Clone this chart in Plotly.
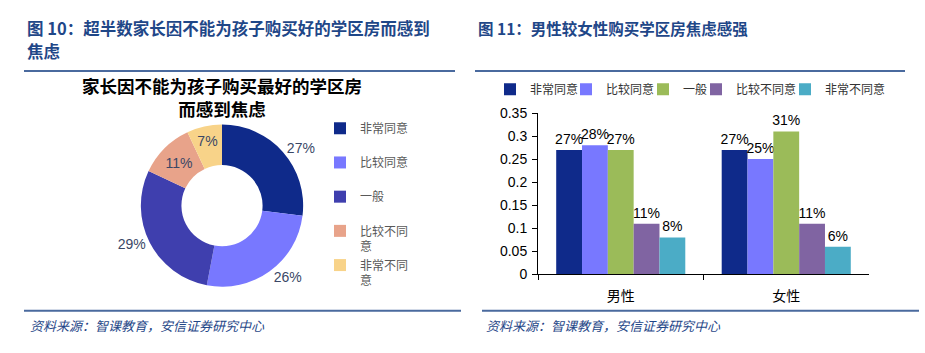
import plotly.graph_objects as go

# ---------------- data ----------------
left_header_lines = ["图 10：超半数家长因不能为孩子购买好的学区房而感到", "焦虑"]
right_header = "图 11：男性较女性购买学区房焦虑感强"
source_text = "资料来源：智课教育，安信证券研究中心"
pie_title = "家长因不能为孩子购买最好的学区房<br>而感到焦虑"
categories = ["非常同意", "比较同意", "一般", "比较不同意", "非常不同意"]
pie_values = [27, 26, 29, 11, 7]
genders = ["男性", "女性"]
male_values = [0.27, 0.28, 0.27, 0.11, 0.08]
female_values = [0.27, 0.25, 0.31, 0.11, 0.06]
y_ticks = [0, 0.05, 0.1, 0.15, 0.2, 0.25, 0.3, 0.35]
y_tick_labels = ["0", "0.05", "0.1", "0.15", "0.2", "0.25", "0.3", "0.35"]

# ---------------- style ----------------
W, H = 925, 353
def px(x):
    return x / W
def py(y):
    return 1 - y / H

pie_colors = ["#0F2A8A", "#7878FF", "#3F3FAE", "#E8A38A", "#F8D389"]
bar_colors = ["#0F2A8A", "#7878FF", "#9BBB59", "#8064A2", "#4BACC6"]
header_color = "#1F4788"
rule_color = "#4A6A9E"
base_font = "Liberation Sans, Arial, Noto Sans CJK SC, sans-serif"
cjk_font = "Noto Sans CJK SC, sans-serif"


def legend_wrap(label, width=4):
    lines = [label[i:i + width] for i in range(0, len(label), width)]
    if len(lines) < 2:
        lines.append("\u00a0")
    return "<br>".join(lines)


pie_legend_labels = [legend_wrap(c) for c in categories]

fig = go.Figure()

# ---------------- doughnut ----------------
fig.add_trace(go.Pie(
    labels=pie_legend_labels,
    values=pie_values,
    hole=0.5,
    sort=False,
    direction="clockwise",
    rotation=0,
    marker=dict(colors=pie_colors, line=dict(width=0)),
    textposition=["outside", "outside", "outside", "inside", "inside"],
    texttemplate="%{percent:.0%}",
    textfont=dict(size=14, color="#3A4766", family=base_font),
    insidetextorientation="horizontal",
    domain=dict(x=[px(137), px(307)], y=[py(292), py(122)]),
    legend="legend",
    hoverinfo="label+percent",
))

# ---------------- grouped bars ----------------
legend_text_x = [530, 606, 683, 736, 825]
for i, cat in enumerate(categories):
    fig.add_trace(go.Bar(
        x=genders,
        y=[male_values[i], female_values[i]],
        name=cat,
        marker=dict(color=bar_colors[i], line=dict(width=0)),
        texttemplate="%{y:.0%}",
        textposition="outside",
        textfont=dict(size=14, color="#000000", family=base_font),
        constraintext="none",
        cliponaxis=False,
        legend=f"legend{i + 2}",
        xaxis="x",
        yaxis="y",
    ))

legend_common = dict(
    orientation="v",
    xanchor="left",
    yanchor="middle",
    bgcolor="rgba(0,0,0,0)",
    borderwidth=0,
    font=dict(size=12, color="#333333", family=cjk_font),
    itemclick=False,
    itemdoubleclick=False,
)
extra_legends = {}
for i in range(len(categories)):
    extra_legends[f"legend{i + 2}"] = dict(legend_common, x=px(legend_text_x[i] - 40), y=py(85))

fig.update_layout(
    width=W,
    height=H,
    margin=dict(l=0, r=0, t=0, b=0),
    paper_bgcolor="white",
    plot_bgcolor="white",
    font=dict(family=base_font, color="#000000"),
    barmode="group",
    bargap=0.22,
    bargroupgap=0,
    showlegend=True,
    legend=dict(
        x=px(320), y=py(111), xanchor="left", yanchor="top",
        orientation="v", valign="top", traceorder="normal",
        bgcolor="rgba(0,0,0,0)", borderwidth=0,
        font=dict(size=12, color="#595959", family=cjk_font),
        itemclick=False, itemdoubleclick=False,
    ),
    **extra_legends,
    xaxis=dict(
        domain=[px(538), px(869)],
        range=[-0.5, 1.5],
        showline=True, linecolor="#000000", linewidth=1,
        ticks="outside", ticklen=5, tickcolor="#000000", tickson="boundaries",
        showgrid=False, zeroline=False,
        tickfont=dict(size=14, family=cjk_font, color="#000000"),
        ticklabelstandoff=9,
        anchor="y",
    ),
    yaxis=dict(
        domain=[py(279), py(110)],
        range=[0, 0.35],
        tickvals=y_ticks, ticktext=y_tick_labels,
        showline=True, linecolor="#000000", linewidth=1,
        ticks="outside", ticklen=5, tickcolor="#000000",
        showgrid=False, zeroline=False,
        tickfont=dict(size=14, family=base_font, color="#000000"),
        ticklabelstandoff=2,
        anchor="x",
    ),
)

annotations = [
    dict(text=left_header_lines[0], x=px(25), y=py(21), xanchor="left", yanchor="middle", align="left",
         font=dict(size=16.5, color=header_color, family=cjk_font, weight="bold")),
    dict(text=left_header_lines[1], x=px(25), y=py(45), xanchor="left", yanchor="middle", align="left",
         font=dict(size=16.5, color=header_color, family=cjk_font, weight="bold")),
    dict(text=right_header, x=px(476), y=py(20.5), xanchor="left", yanchor="middle", align="left",
         font=dict(size=15.5, color=header_color, family=cjk_font, weight="bold")),
    dict(text=pie_title, x=px(222), y=py(93), xanchor="center", yanchor="middle", align="center",
         font=dict(size=17.5, color="#000000", family=cjk_font, weight="bold")),
    dict(text=source_text, x=px(28), y=py(333), xanchor="left", yanchor="middle",
         font=dict(size=13, color=header_color, family=cjk_font, style="italic")),
    dict(text=source_text, x=px(484), y=py(333), xanchor="left", yanchor="middle",
         font=dict(size=13, color=header_color, family=cjk_font, style="italic")),
]
for a in annotations:
    a.update(xref="paper", yref="paper", showarrow=False)
fig.update_layout(annotations=annotations)

rules = [(24, 455, 66), (475, 905, 66), (24, 461, 317), (482, 919, 317)]
fig.update_layout(shapes=[
    dict(type="line", xref="paper", yref="paper", x0=px(a), x1=px(b), y0=py(y), y1=py(y),
         line=dict(color=rule_color, width=2))
    for a, b, y in rules
])

fig.write_html("out.html")
